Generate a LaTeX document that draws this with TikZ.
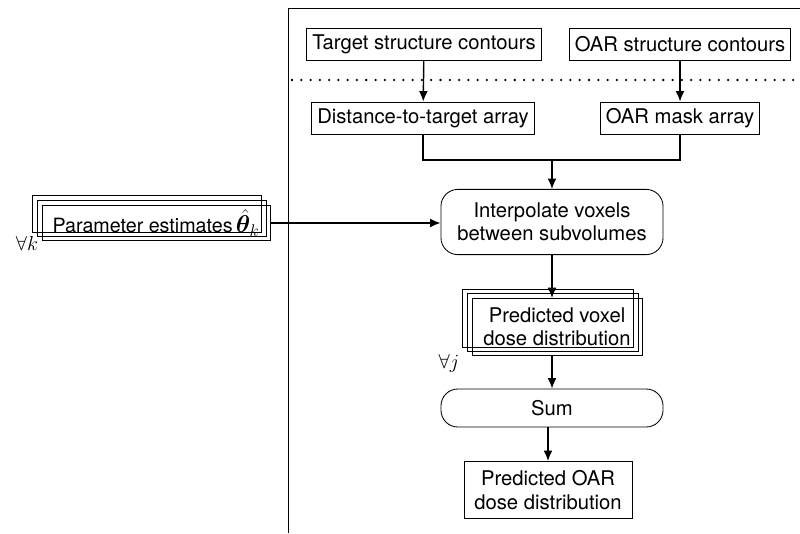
\documentclass[tikz,border=0pt]{standalone}
\usepackage{amsmath,bm}
\usepackage{fontspec}
\setmainfont{TeX Gyre Heros}
\usetikzlibrary{positioning,arrows.meta}

\tikzset{
  box/.style={draw, line width=.6pt, inner xsep=4pt, inner ysep=3pt, minimum height=.8cm},
  roundbox/.style={box, rounded corners=12pt, align=center, minimum width=5.55cm},
  twoline/.style={box, align=center, minimum height=1.43cm},
  flow/.style={-{Latex[length=2.6mm,width=2.2mm]}, line width=1pt},
}

\begin{document}
\begin{tikzpicture}[x=0.025cm, y=-0.025cm, font=\fontsize{14.4}{16.5}\selectfont]
\useasboundingbox (0,0) rectangle (800,533);
% frame of the pipeline
\draw[line width=.6pt] (288,533) -- (288,8) -- (800,8);
\draw[line width=1.8pt, line cap=round, dash pattern=on 0pt off 6.6pt] (292,80) -- (800,80);
% inputs
\node[box] (target) at (424,44) {Target structure contours};
\node[box] (oar) at (680,44) {OAR structure contours};
\node[box] (dist) at (423,118) {Distance-to-target array};
\node[box] (mask) at (680,118) {OAR mask array};
\coordinate (merge) at (552,160);
% processing
\node[roundbox, minimum height=1.63cm] (interp) at (552,222) {Interpolate voxels\\between subvolumes};
\node[box, minimum height=.85cm, minimum width=5.7cm, inner xsep=1pt, font=\fontsize{14}{16}\selectfont] (param) at (156,223)
  {Parameter estimates\,{\fontsize{18}{18}\selectfont$\hat{\bm{\theta}}_k$}};
\node[twoline, minimum width=4.25cm, inner xsep=1pt] (voxel) at (557,327) {Predicted voxel\\dose distribution};
\node[roundbox, minimum height=.95cm] (sum) at (552,408) {Sum};
\node[twoline, minimum width=4.2cm] (total) at (548,490) {Predicted OAR\\dose distribution};
% stacked copies
\foreach \n in {param,voxel}
  \foreach \s in {1,2}
    \draw[line width=.6pt] ([shift={(-4.5*\s,-4.5*\s)}]\n.south west) rectangle ([shift={(-4.5*\s,-4.5*\s)}]\n.north east);
\node (allk) at (27,243) {$\forall k$};
\node (allj) at (449,363) {$\forall j$};
% connectors
\draw[flow] (target) -- (dist);
\draw[flow] (oar) -- (mask);
\draw[line width=1pt] (dist.south) |- (merge) -| (mask.south);
\draw[flow] (merge) -- (interp.north);
\draw[flow] (param.east) -- (param.east -| interp.west);
\draw[flow] (interp.south) -- (interp.south |- voxel.north);
\draw[flow] (voxel.south -| sum.north) -- (sum.north);
\draw[flow] (sum.south -| total.north) -- (total.north);
\end{tikzpicture}
\end{document}
